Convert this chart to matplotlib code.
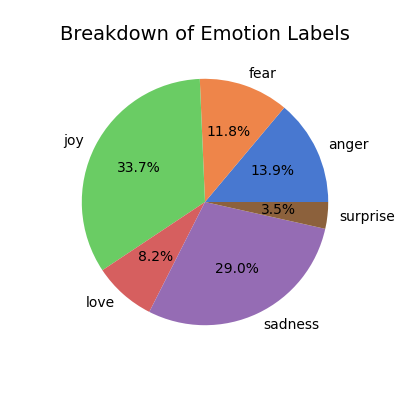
import seaborn as sns
from matplotlib import pyplot as plt

labels = ["anger", "fear", "joy", "love", "sadness", "surprise"]
shares = [13.9, 11.8, 33.7, 8.2, 29.0, 3.5]


def main():
    colors = sns.color_palette("muted", len(labels))
    fig, ax = plt.subplots(figsize=(4, 4), dpi=100)
    ax.pie(shares, labels=labels, colors=colors, autopct="%1.1f%%")
    ax.set_title("Breakdown of Emotion Labels", fontsize=14)
    fig.savefig("out.png")


if __name__ == "__main__":
    main()
